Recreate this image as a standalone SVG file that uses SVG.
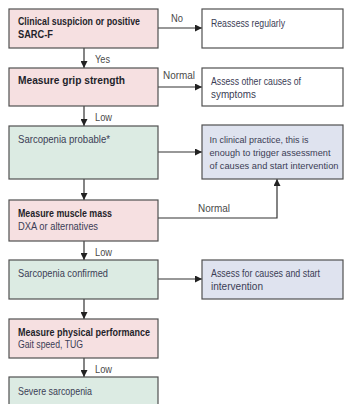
<svg xmlns="http://www.w3.org/2000/svg" width="346" height="404" viewBox="0 0 346 404">
<style>
.box{stroke:#505050;stroke-width:1.2}
.pink{fill:#f6e0e1}
.green{fill:#dcebe3}
.blue{fill:#dfe3ef}
.white{fill:#ffffff}
text{font-family:"Liberation Sans",Arial,sans-serif;font-size:11px}
.b{font-weight:bold;fill:#1f1f2a}
.r{fill:#3b3d55}
.s{font-size:9.4px}
.lab{fill:#4a4a4a;font-size:10.5px}
.ln{stroke:#333;stroke-width:1.2;fill:none}
</style>
<defs>
<marker id="ah" viewBox="0 0 8 8" refX="8" refY="4" markerWidth="7" markerHeight="7" markerUnits="userSpaceOnUse" orient="auto">
<path d="M0,0 L8,4 L0,8 z" fill="#222"/>
</marker>
</defs>
<g id="connectors">
<line class="ln" x1="84" y1="48" x2="84" y2="68" marker-end="url(#ah)"/>
<line class="ln" x1="84" y1="106" x2="84" y2="126" marker-end="url(#ah)"/>
<line class="ln" x1="84" y1="179" x2="84" y2="200" marker-end="url(#ah)"/>
<line class="ln" x1="84" y1="241" x2="84" y2="260" marker-end="url(#ah)"/>
<line class="ln" x1="84" y1="299" x2="84" y2="319" marker-end="url(#ah)"/>
<line class="ln" x1="84" y1="358" x2="84" y2="377" marker-end="url(#ah)"/>
<line class="ln" x1="158" y1="28" x2="202" y2="28" marker-end="url(#ah)"/>
<line class="ln" x1="158" y1="87" x2="202" y2="87" marker-end="url(#ah)"/>
<line class="ln" x1="158" y1="152" x2="202" y2="152" marker-end="url(#ah)"/>
<polyline class="ln" points="158,218 277,218 277,179" marker-end="url(#ah)"/>
<line class="ln" x1="158" y1="279" x2="202" y2="279" marker-end="url(#ah)"/>
<text class="lab" x="95" y="62.5" textLength="15" lengthAdjust="spacingAndGlyphs">Yes</text>
<text class="lab" x="95" y="120.5" textLength="17" lengthAdjust="spacingAndGlyphs">Low</text>
<text class="lab" x="95" y="255.5" textLength="17" lengthAdjust="spacingAndGlyphs">Low</text>
<text class="lab" x="95" y="372.5" textLength="17" lengthAdjust="spacingAndGlyphs">Low</text>
<text class="lab" x="171" y="21.5" textLength="12" lengthAdjust="spacingAndGlyphs">No</text>
<text class="lab" x="163" y="78.5" textLength="32" lengthAdjust="spacingAndGlyphs">Normal</text>
<text class="lab" x="198" y="211.5" textLength="32" lengthAdjust="spacingAndGlyphs">Normal</text>
</g>
<g id="n1">
<rect class="box pink" x="9" y="9" width="149" height="39"/>
<text class="b" x="18" y="24.5" textLength="122" lengthAdjust="spacingAndGlyphs">Clinical suspicion or positive</text>
<text class="b" x="18" y="38" textLength="35" lengthAdjust="spacingAndGlyphs">SARC-F</text>
</g>
<g id="n2">
<rect class="box white" x="202" y="9" width="141" height="39"/>
<text class="r" x="211" y="26.5" textLength="74" lengthAdjust="spacingAndGlyphs">Reassess regularly</text>
</g>
<g id="n3">
<rect class="box pink" x="9" y="68" width="149" height="38"/>
<text class="b" x="18" y="84" textLength="107" lengthAdjust="spacingAndGlyphs">Measure grip strength</text>
</g>
<g id="n4">
<rect class="box white" x="202" y="68" width="141" height="38"/>
<text class="r" x="211" y="84.5" textLength="90" lengthAdjust="spacingAndGlyphs">Assess other causes of</text>
<text class="r" x="211" y="97.5" textLength="45" lengthAdjust="spacingAndGlyphs">symptoms</text>
</g>
<g id="n5">
<rect class="box green" x="9" y="126" width="149" height="53"/>
<text class="r" x="18" y="142.5" textLength="92" lengthAdjust="spacingAndGlyphs">Sarcopenia probable*</text>
</g>
<g id="n6">
<rect class="box blue" x="202" y="125" width="141" height="54"/>
<text class="r s" x="209.5" y="142.5" textLength="99" lengthAdjust="spacingAndGlyphs">In clinical practice, this is</text>
<text class="r s" x="209.5" y="155.5" textLength="121" lengthAdjust="spacingAndGlyphs">enough to trigger assessment</text>
<text class="r s" x="209.5" y="168.5" textLength="129" lengthAdjust="spacingAndGlyphs">of causes and start intervention</text>
</g>
<g id="n7">
<rect class="box pink" x="9" y="200" width="149" height="41"/>
<text class="b" x="18" y="216.5" textLength="94" lengthAdjust="spacingAndGlyphs">Measure muscle mass</text>
<text class="r" x="18" y="229.5" textLength="80" lengthAdjust="spacingAndGlyphs">DXA or alternatives</text>
</g>
<g id="n8">
<rect class="box green" x="9" y="260" width="149" height="39"/>
<text class="r" x="18" y="277" textLength="90" lengthAdjust="spacingAndGlyphs">Sarcopenia confirmed</text>
</g>
<g id="n9">
<rect class="box blue" x="202" y="260" width="141" height="39"/>
<text class="r" x="211" y="277" textLength="109" lengthAdjust="spacingAndGlyphs">Assess for causes and start</text>
<text class="r" x="211" y="290" textLength="52" lengthAdjust="spacingAndGlyphs">intervention</text>
</g>
<g id="n10">
<rect class="box pink" x="9" y="319" width="149" height="39"/>
<text class="b" x="18" y="335.5" textLength="132" lengthAdjust="spacingAndGlyphs">Measure physical performance</text>
<text class="r" x="18" y="347.5" textLength="65" lengthAdjust="spacingAndGlyphs">Gait speed, TUG</text>
</g>
<g id="n11">
<rect class="box green" x="9" y="377" width="149" height="40"/>
<text class="r" x="18" y="394.5" textLength="74" lengthAdjust="spacingAndGlyphs">Severe sarcopenia</text>
</g>
</svg>
